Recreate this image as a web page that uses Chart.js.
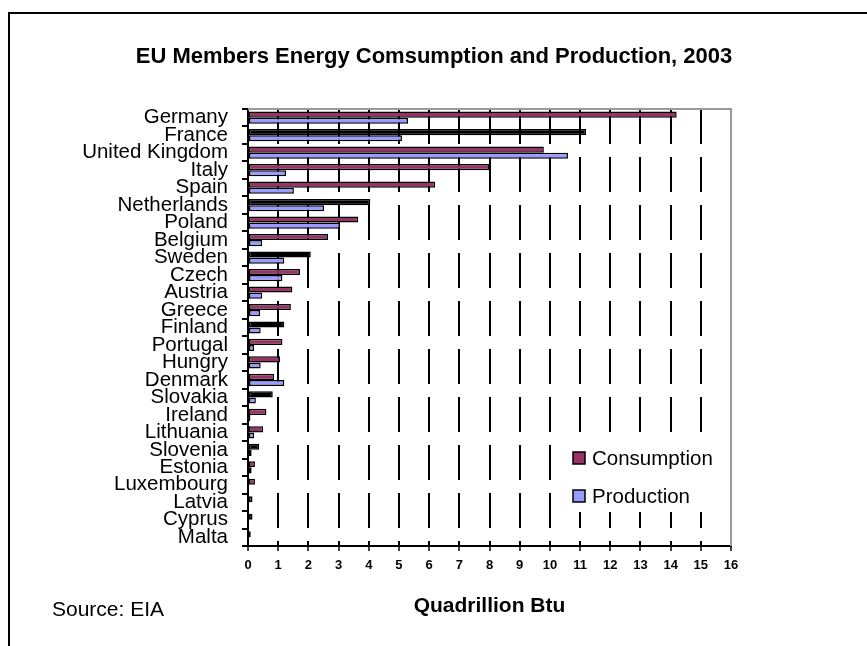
<!DOCTYPE html>
<html><head><meta charset="utf-8">
<script src="https://cdn.jsdelivr.net/npm/chart.js@4"></script>
<style>
html,body{margin:0;padding:0;background:#fff;}
#wrap{position:relative;width:867px;height:646px;overflow:hidden;background:#fff;}
#frame{position:absolute;left:8px;top:12px;width:900px;height:700px;border-left:2px solid #000;border-top:2px solid #000;}
#c{position:absolute;left:0;top:0;}
</style></head><body>
<div id="wrap"><div id="frame"></div><canvas id="c" width="867" height="646"></canvas></div>
<script>
const countries = ['Germany','France','United Kingdom','Italy','Spain','Netherlands','Poland','Belgium','Sweden','Czech','Austria','Greece','Finland','Portugal','Hungry','Denmark','Slovakia','Ireland','Lithuania','Slovenia','Estonia','Luxembourg','Latvia','Cyprus','Malta'];
const consumption = [14.2, 11.2, 9.8, 8.0, 6.2, 4.05, 3.65, 2.65, 2.08, 1.72, 1.47, 1.42, 1.2, 1.14, 1.06, 0.86, 0.82, 0.61, 0.5, 0.37, 0.23, 0.23, 0.15, 0.15, 0.09];
const production  = [5.3, 5.1, 10.6, 1.26, 1.52, 2.52, 3.05, 0.47, 1.2, 1.14, 0.47, 0.4, 0.42, 0.2, 0.42, 1.2, 0.26, 0.08, 0.2, 0.12, 0.12, 0, 0, 0, 0];
const seriesNames = ['Consumption', 'Production'];
const xMin = 0, xMax = 16, xStep = 1;
const titleText = 'EU Members Energy Comsumption and Production, 2003';
const xAxisTitle = 'Quadrillion Btu';
const sourceText = 'Source: EIA';

// styling
const FONT = '"Liberation Sans", Arial, sans-serif';
const MAROON = '#993366', BLUE = '#9999ff';
const darkConsumptionBars = ['France','Netherlands','Sweden','Finland','Slovakia','Slovenia','Cyprus','Malta'];

const plotBorder = {
  id: 'plotBorder',
  beforeDatasetsDraw(chart) {
    const {ctx, chartArea: a} = chart;
    ctx.save();
    ctx.strokeStyle = '#9a9a9a';
    ctx.lineWidth = 2;
    ctx.beginPath();
    ctx.moveTo(a.left, a.top);
    ctx.lineTo(a.right, a.top);
    ctx.lineTo(a.right, a.bottom);
    ctx.stroke();
    ctx.restore();
  }
};

const boxLegend = {
  id: 'boxLegend',
  afterDatasetsDraw(chart) {
    const {ctx, chartArea: a} = chart;
    ctx.save();
    ctx.fillStyle = '#fff';
    ctx.fillRect(a.right - 161, a.bottom - 109, 155, 75);
    chart.data.datasets.forEach((ds, i) => {
      const y = a.bottom - 88 + i * 38;
      ctx.fillStyle = ds.legendColor;
      ctx.fillRect(a.right - 158, y - 6, 12, 12);
      ctx.strokeStyle = '#000';
      ctx.lineWidth = 1.5;
      ctx.strokeRect(a.right - 158, y - 6, 12, 12);
      ctx.fillStyle = '#000';
      ctx.font = '20.5px ' + FONT;
      ctx.textBaseline = 'middle';
      ctx.textAlign = 'left';
      ctx.fillText(ds.label, a.right - 139, y + 1);
    });
    ctx.restore();
  }
};

new Chart(document.getElementById('c'), {
  type: 'bar',
  data: {
    labels: countries,
    datasets: [
      {
        label: seriesNames[0],
        data: consumption,
        backgroundColor: countries.map(c => darkConsumptionBars.includes(c) ? '#000' : MAROON),
        legendColor: MAROON,
        borderColor: '#000',
        borderWidth: 1.5,
        borderSkipped: false,
        categoryPercentage: 0.7,
        barPercentage: 1
      },
      {
        label: seriesNames[1],
        data: production,
        backgroundColor: BLUE,
        legendColor: BLUE,
        borderColor: '#000',
        borderWidth: 1.5,
        borderSkipped: false,
        categoryPercentage: 0.7,
        barPercentage: 1
      }
    ]
  },
  options: {
    indexAxis: 'y',
    responsive: false,
    animation: false,
    devicePixelRatio: 1,
    layout: { padding: { left: 52, right: 51, top: 0, bottom: 0 } },
    plugins: {
      legend: { display: false },
      tooltip: { enabled: false },
      title: {
        display: true, text: titleText, color: '#000',
        font: { family: FONT, size: 22, weight: 'bold' },
        padding: { top: 43.8, bottom: 38.8 }
      },
      subtitle: {
        display: true, text: sourceText, position: 'bottom', align: 'start', color: '#000',
        font: { family: FONT, size: 21, weight: 'normal' },
        padding: { top: -40, bottom: 23 }
      }
    },
    scales: {
      x: {
        type: 'linear', position: 'bottom', min: xMin, max: xMax,
        ticks: { stepSize: xStep, autoSkip: false, color: '#000', padding: 7,
                 font: { family: FONT, size: 13, weight: 'bold' } },
        grid: {
          color: c => (c.tick && c.tick.value > xMin && c.tick.value < xMax) ? '#000' : 'rgba(0,0,0,0)',
          lineWidth: 2, tickColor: '#000', tickLength: 5, tickWidth: 1.5
        },
        border: { display: true, color: '#000', width: 2, dash: [35, 13] },
        title: { display: true, text: xAxisTitle, color: '#000',
                 font: { family: FONT, size: 21, weight: 'bold' },
                 padding: { top: 0, bottom: 19.2 } },
        afterFit(s) { s.height = 91.8; }
      },
      y: {
        type: 'category', position: 'left', offset: true,
        ticks: { autoSkip: false, color: '#000', padding: 14,
                 font: { family: FONT, size: 20.5 } },
        grid: { drawOnChartArea: false, drawTicks: true, tickLength: 6, color: '#000', lineWidth: 2, offset: true },
        border: { display: true, color: '#000', width: 2 },
        afterFit(s) { s.width = 196; }
      },
      y2: {
        type: 'linear', position: 'right', display: true,
        ticks: { display: false }, grid: { display: false }, border: { display: false },
        afterFit(s) { s.width = 85; }
      }
    }
  },
  plugins: [plotBorder, boxLegend]
});
</script>
</body></html>
